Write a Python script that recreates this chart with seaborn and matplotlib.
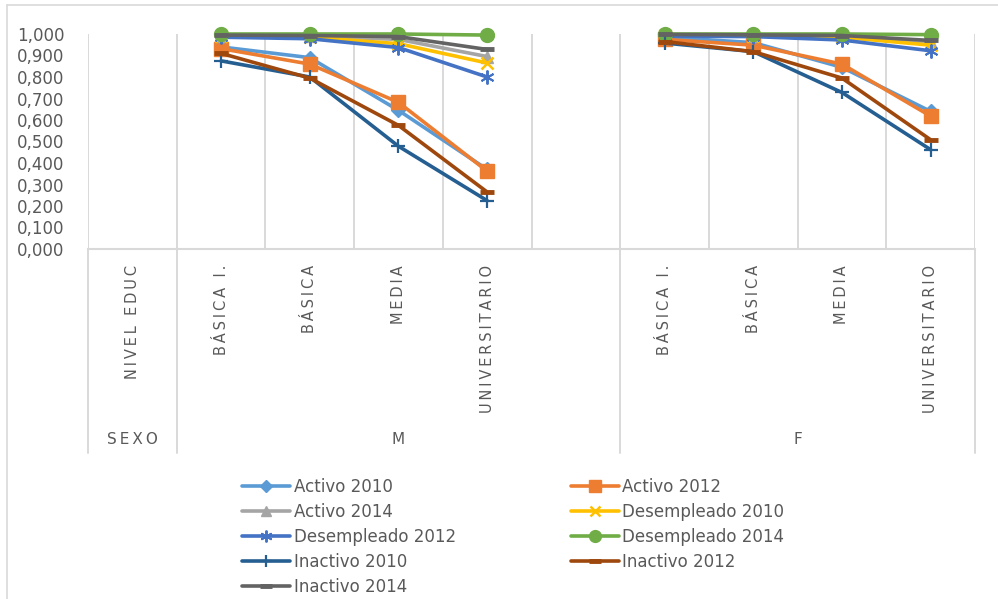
import numpy as np
import pandas as pd
import matplotlib
matplotlib.use("Agg")
import matplotlib.pyplot as plt
import matplotlib.transforms as mtransforms
from matplotlib.lines import Line2D
from matplotlib.ticker import FuncFormatter
import seaborn as sns

# ---------------- data ----------------
niveles = ["BÁSICA I.", "BÁSICA", "MEDIA", "UNIVERSITARIO"]
sexos = ["M", "F"]
header_nivel = "NIVEL EDUC"
header_sexo = "SEXO"

series = ["Activo 2010", "Activo 2012", "Activo 2014",
          "Desempleado 2010", "Desempleado 2012", "Desempleado 2014",
          "Inactivo 2010", "Inactivo 2012", "Inactivo 2014"]

# values: M (4 levels) followed by F (4 levels)
activo_2010      = [0.940, 0.890, 0.645, 0.370,  0.985, 0.960, 0.845, 0.640]
activo_2012      = [0.932, 0.860, 0.682, 0.362,  0.975, 0.948, 0.860, 0.618]
activo_2014      = [0.990, 0.990, 0.975, 0.895,  0.995, 0.993, 0.990, 0.960]
desempleado_2010 = [0.990, 0.985, 0.955, 0.865,  0.995, 0.993, 0.985, 0.948]
desempleado_2012 = [0.985, 0.978, 0.937, 0.800,  0.990, 0.988, 0.972, 0.922]
desempleado_2014 = [1.000, 1.000, 1.000, 0.995,  1.000, 1.000, 1.000, 0.997]
inactivo_2010    = [0.875, 0.800, 0.478, 0.225,  0.958, 0.918, 0.728, 0.462]
inactivo_2012    = [0.910, 0.795, 0.575, 0.265,  0.965, 0.918, 0.795, 0.508]
inactivo_2014    = [0.995, 0.993, 0.988, 0.928,  0.998, 0.996, 0.993, 0.970]

valores = [activo_2010, activo_2012, activo_2014,
           desempleado_2010, desempleado_2012, desempleado_2014,
           inactivo_2010, inactivo_2012, inactivo_2014]

y_ticks = [0.0, 0.1, 0.2, 0.3, 0.4, 0.5, 0.6, 0.7, 0.8, 0.9, 1.0]

# ---------------- styles ----------------
colores = ["#5B9BD5", "#ED7D31", "#A5A5A5",
           "#FFC000", "#4472C4", "#70AD47",
           "#255E91", "#9E480E", "#636363"]
marcadores = ["D", "s", "^", "x", (6, 2, 0), "o", "+", "_", "_"]
msizes = [7, 9.5, 8, 8.5, 10, 10, 9.5, 10, 10]
mews = [1, 1, 1, 1.8, 1.4, 1, 1.6, 3.5, 3.5]

# category slots: 0 = header, 1-4 = M, 5 = blank, 6-9 = F
slot_m = [1, 2, 3, 4]
slot_f = [6, 7, 8, 9]

rows = []
for name, vals in zip(series, valores):
    for i, nv in enumerate(niveles):
        rows.append((name, "M", nv, slot_m[i], vals[i]))
        rows.append((name, "F", nv, slot_f[i], vals[4 + i]))
df = pd.DataFrame(rows, columns=["serie", "sexo", "nivel", "pos", "valor"])

sns.set_style("white")
plt.rcParams["font.family"] = ["DejaVu Sans"]
TXT = "#595959"
GRID = "#D9D9D9"

W, H = 998, 599
fig = plt.figure(figsize=(W / 100, H / 100), dpi=100)
L, R, T, B = 88, 975, 34, 249
ax = fig.add_axes([L / W, 1 - B / H, (R - L) / W, (B - T) / H])

handles = []
for name, c, m, ms, mew in zip(series, colores, marcadores, msizes, mews):
    for sx in sexos:
        sub = df[(df.serie == name) & (df.sexo == sx)]
        sns.lineplot(data=sub, x="pos", y="valor", ax=ax, color=c, linewidth=2.6,
                     marker=m, markersize=ms, markeredgecolor=c,
                     markerfacecolor=c, markeredgewidth=mew, legend=False,
                     clip_on=False)
    handles.append(Line2D([0], [0], color=c, lw=2.6, marker=m, markersize=ms * 0.85,
                          markeredgecolor=c, markerfacecolor=c,
                          markeredgewidth=mew, label=name))

ax.set_xlim(-0.5, 9.5)
ax.set_ylim(0, 1.0)
ax.set_xlabel("")
ax.set_ylabel("")
ax.set_xticks([])
ax.set_yticks(y_ticks)
ax.yaxis.set_major_formatter(FuncFormatter(lambda v, p: f"{v:.3f}".replace(".", ",")))
ax.tick_params(axis="y", length=0, pad=17, labelsize=12, labelcolor=TXT)
for s in ["top", "right", "left"]:
    ax.spines[s].set_visible(False)
ax.spines["bottom"].set_color(GRID)
ax.spines["bottom"].set_linewidth(1.5)

# vertical gridlines at slot boundaries
for k in range(11):
    ax.axvline(k - 0.5, color=GRID, lw=1.4, zorder=0)

trans = mtransforms.blended_transform_factory(ax.transData, ax.transAxes)
ybot = -(453 - B) / (B - T)
for xb in [-0.5, 0.5, 5.5, 9.5]:
    ax.plot([xb, xb], [0, ybot], transform=trans, color=GRID, lw=1.4, clip_on=False)


def spaced(s):
    return "\u2009".join(list(s))


ylab = -(265 - B) / (B - T)
lab_kw = dict(transform=trans, rotation=90, ha="center", va="top",
              fontsize=10.5, color=TXT)
ax.text(0, ylab, spaced(header_nivel), **lab_kw)
for i, nv in enumerate(niveles):
    ax.text(slot_m[i], ylab, spaced(nv), **lab_kw)
    ax.text(slot_f[i], ylab, spaced(nv), **lab_kw)

ysx = -(440 - B) / (B - T)
ax.text(0, ysx, spaced(header_sexo), transform=trans, ha="center", va="center",
        fontsize=11, color=TXT)
ax.text(np.mean([1, 5]), ysx, sexos[0], transform=trans, ha="center", va="center",
        fontsize=11, color=TXT)
ax.text(np.mean(slot_f), ysx, sexos[1], transform=trans, ha="center", va="center",
        fontsize=11, color=TXT)

# legend: row-wise order in two columns
order = [0, 2, 4, 6, 8, 1, 3, 5, 7]
leg = fig.legend([handles[i] for i in order], [series[i] for i in order],
                 loc="upper left", bbox_to_anchor=(242 / W, 1 - 478 / H),
                 ncol=2, frameon=False, fontsize=12, handlelength=2.9,
                 handletextpad=0.2, columnspacing=6.9, labelspacing=0.42,
                 borderpad=0, borderaxespad=0)
for t in leg.get_texts():
    t.set_color(TXT)

# chart frame (top and left visible)
fig.add_artist(Line2D([7 / W, 1], [1 - 5 / H, 1 - 5 / H], transform=fig.transFigure,
                      color=GRID, lw=1.2))
fig.add_artist(Line2D([7 / W, 7 / W], [0, 1 - 5 / H], transform=fig.transFigure,
                      color=GRID, lw=1.2))

fig.savefig("out.png", dpi=100)
